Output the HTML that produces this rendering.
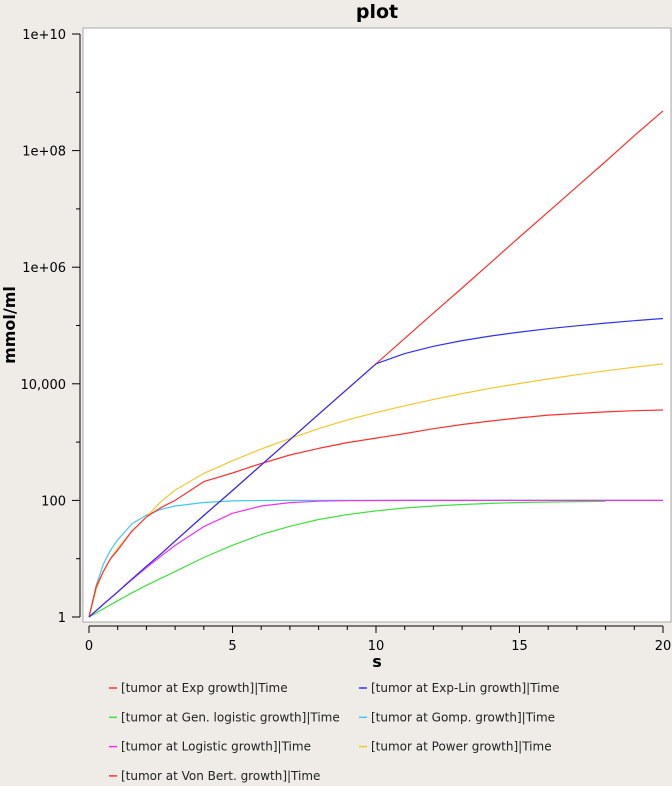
<!DOCTYPE html>
<html><head><meta charset="utf-8"><style>
body{margin:0;background:#efece8;}
svg{display:block;font-family:"DejaVu Sans","Liberation Sans",sans-serif;}
</style></head><body>
<svg id="chart" width="672" height="786">
<rect x="0" y="0" width="672" height="786" fill="#efece8"/>
<rect x="83" y="28" width="588" height="594" fill="#fff" stroke="#a8a8a8" stroke-width="1"/>
<text x="377" y="18" font-size="19" font-weight="bold" text-anchor="middle">plot</text>
<text x="377" y="667" font-size="16" font-weight="bold" text-anchor="middle">s</text>
<text transform="translate(15,325) rotate(-90)" font-size="16" font-weight="bold" text-anchor="middle">mmol/ml</text>
<g id="axes"></g>
<g id="series"></g>
<g id="legend"></g>
</svg>
<script>
const times = [0,0.25,0.5,0.75,1,1.5,2,2.5,3,4,5,6,7,8,9,10,11,12,13,14,15,16,17,18,19,20];
const expVals = [1,1.28,1.65,2.1,2.7,4.5,7.4,12,20,55,148,403,1100,3000,8100,22000,60000,163000,440000,1.2e6,3.3e6,8.9e6,2.4e7,6.5e7,1.8e8,4.8e8];
const expLinVals = [1,1.28,1.65,2.1,2.7,4.5,7.4,12,20,55,148,403,1100,3000,8100,22000,33000,44000,55000,66000,77000,88000,99000,110000,121000,132000];
const genLogVals = [1,1.17,1.38,1.62,1.9,2.6,3.5,4.6,6,10.5,17,26,36,47,57,66,74,80,85,89,92,94,95.5,96.5,null,null];
const gompVals = [1,3.5,8,14,21,40,56,70,80,92,98,99.5,100,100,100,100,100,100,100,100,100,100,100,100,100,100];
const logisticVals = [1,1.28,1.65,2.1,2.7,4.4,7.0,11,16.9,35.5,60,80,91.7,96.8,98.8,99.5,100,100,100,100,100,100,100,100,100,100];
const powerVals = [1,3,6,10,15,30,52,95,150,290,480,760,1150,1700,2400,3200,4200,5400,6800,8400,10100,12100,14300,16700,19300,22000];
const vonBertVals = [1,3.3,6,10,14,30,52,75,100,210,295,430,600,780,980,1170,1400,1700,2000,2300,2600,2900,3100,3300,3450,3550];
const xTicks = [0,5,10,15,20];
const yTickLabels = ["1","100","10,000","1e+06","1e+08","1e+10"];
const yTickExps = [0,2,4,6,8,10];

const NS="http://www.w3.org/2000/svg";
const X0=89,X1=663,Y0=617,Y1=34;
function xs(t){return X0+(X1-X0)*t/20;}
function ys(v){return Y0-(Y0-Y1)*Math.log10(v)/10;}
function mk(tag,attrs,parent){const e=document.createElementNS(NS,tag);for(const k in attrs)e.setAttribute(k,attrs[k]);parent.appendChild(e);return e;}
const axes=document.getElementById('axes');
let l=mk('line',{x1:80,y1:Y1,x2:80,y2:Y0,stroke:'#000'},axes);


l=mk('line',{x1:X0,y1:626,x2:X1,y2:626,stroke:'#000'},axes);


for(let d=0;d<=10;d++){
  const y=ys(Math.pow(10,d));
  const t=mk('line',{x1:d%2?76:72,y1:y,x2:80,y2:y,stroke:'#000'},axes);
  
  
}
yTickExps.forEach((d,i)=>{
  const t=mk('text',{x:66,y:ys(Math.pow(10,d))+5,'font-size':13,'text-anchor':'end'},axes);
  t.textContent=yTickLabels[i];
  
  
});
for(let s=0;s<=20;s++){
  const x=xs(s);
  const t=mk('line',{x1:x,y1:626,x2:x,y2:s%5?630:633,stroke:'#000'},axes);
  
  
}
xTicks.forEach(s=>{
  const t=mk('text',{x:xs(s),y:650,'font-size':13,'text-anchor':'middle'},axes);
  t.textContent=String(s);
  
  
});
const series=[
 {name:'exp-growth',vals:expVals,color:'#ff3030',label:'[tumor at Exp growth]|Time'},
 {name:'gen-logistic-growth',vals:genLogVals,color:'#40e040',label:'[tumor at Gen. logistic growth]|Time'},
 {name:'gomp-growth',vals:gompVals,color:'#40c8f0',label:'[tumor at Gomp. growth]|Time'},
 {name:'logistic-growth',vals:logisticVals,color:'#f030f0',label:'[tumor at Logistic growth]|Time'},
 {name:'power-growth',vals:powerVals,color:'#f0c830',label:'[tumor at Power growth]|Time'},
 {name:'von-bert-growth',vals:vonBertVals,color:'#ff3030',label:'[tumor at Von Bert. growth]|Time'},
 {name:'exp-lin-growth',vals:expLinVals,color:'#3030ff',label:'[tumor at Exp-Lin growth]|Time'}
];
const legendOrder=[0,6,1,2,3,4,5];
const sg=document.getElementById('series'),lg=document.getElementById('legend');
series.forEach(s=>{
  let d='';
  s.vals.forEach((v,j)=>{if(v==null)return;d+=(d?'L':'M')+xs(times[j]).toFixed(1)+','+ys(v).toFixed(1);});
  const p=mk('path',{d:d,fill:'none',stroke:s.color,'stroke-width':1.2,'stroke-linejoin':'round'},sg);
  
  
});
legendOrder.forEach((si,i)=>{
  const s=series[si];
  const col=i%2,row=Math.floor(i/2);
  const lx=col?359:109,ly=688+row*29.3;
  const g=mk('g',{},lg);
  
  
  mk('line',{x1:lx,y1:ly,x2:lx+8,y2:ly,stroke:s.color,'stroke-width':1.5},g);
  const t=mk('text',{x:lx+12,y:ly+4,'font-size':12,fill:'#222'},g);
  t.textContent=s.label;
});
</script>
</body></html>
